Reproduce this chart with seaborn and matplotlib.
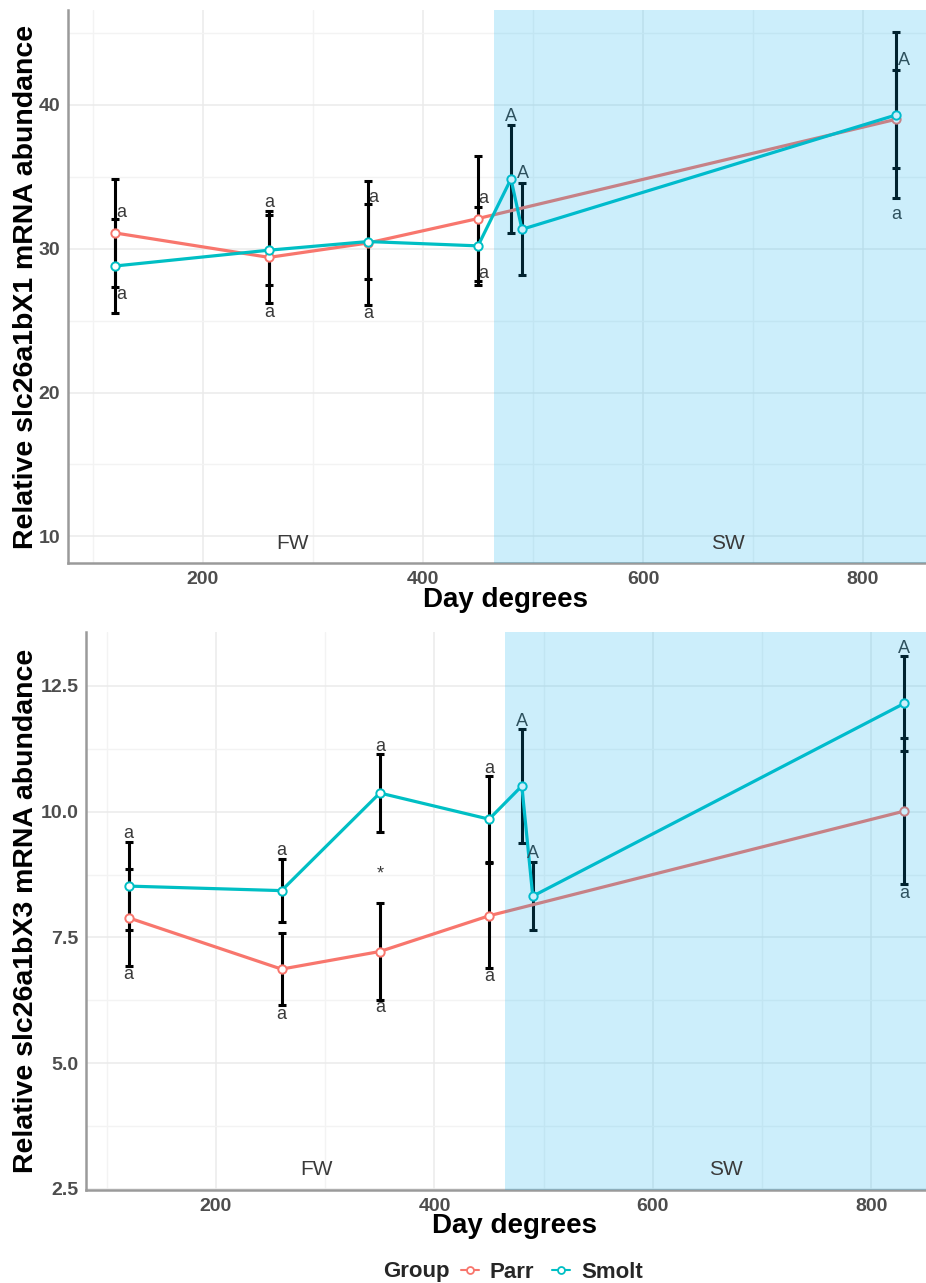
import numpy as np
import pandas as pd
import matplotlib
matplotlib.use("Agg")
import matplotlib.pyplot as plt
from matplotlib.lines import Line2D
import seaborn as sns

# ---- data ---------------------------------------------------------------
parr_days = [120, 260, 350, 450, 830]
smolt_days = [120, 260, 350, 450, 480, 490, 830]

x1_parr_mean = [31.1, 29.4, 30.4, 32.1, 39.0]
x1_parr_se = [3.75, 3.2, 4.3, 4.35, 3.4]
x1_smolt_mean = [28.8, 29.9, 30.5, 30.2, 34.85, 31.35, 39.3]
x1_smolt_se = [3.25, 2.45, 2.6, 2.7, 3.75, 3.2, 5.8]

x3_parr_mean = [7.89, 6.87, 7.22, 7.93, 10.01]
x3_parr_se = [0.96, 0.72, 0.96, 1.04, 1.45]
x3_smolt_mean = [8.52, 8.43, 10.37, 9.85, 10.51, 8.32, 12.15]
x3_smolt_se = [0.87, 0.63, 0.77, 0.85, 1.14, 0.68, 0.95]

# significance letters: x, y, text
x1_letter_x = [126, 126, 260, 260, 355, 350, 455, 455, 480, 491, 837, 830]
x1_letter_y = [32.55, 26.8, 33.2, 25.6, 33.55, 25.5, 33.5, 28.3, 39.2, 35.2, 43.06, 32.35]
x1_letter_txt = ["a", "a", "a", "a", "a", "a", "a", "a", "A", "A", "A", "a"]

x3_letter_x = [120, 120, 260, 260, 350, 350, 350, 450, 450, 480, 490, 830, 830]
x3_letter_y = [9.57, 6.77, 9.22, 5.96, 11.29, 8.76, 6.1, 10.86, 6.73, 11.8, 9.17, 13.25, 8.38]
x3_letter_txt = ["a", "a", "a", "a", "a", "*", "a", "a", "a", "A", "A", "A", "a"]

groups = ["Parr", "Smolt"]
palette = {"Parr": "#F8766D", "Smolt": "#00BFC4"}
sw_start = 465

# ---- style --------------------------------------------------------------
sns.set_theme(style="white")
plt.rcParams["font.family"] = ["Liberation Sans", "DejaVu Sans"]
NARROW = ["Liberation Sans Narrow", "Liberation Sans"]

fig = plt.figure(figsize=(9.26, 12.83), dpi=100)
W, H = 926, 1283
ax1 = fig.add_axes([68 / W, 1 - 563 / H, (W - 68) / W, (563 - 10) / H])
ax2 = fig.add_axes([86 / W, 1 - 1190 / H, (W - 86) / W, (1190 - 632) / H])


def make_frame(pm, ps, sm, ss):
    return pd.concat([
        pd.DataFrame({"Day": parr_days, "mean": pm, "se": ps, "Group": "Parr"}),
        pd.DataFrame({"Day": smolt_days, "mean": sm, "se": ss, "Group": "Smolt"}),
    ], ignore_index=True)


def draw_panel(ax, df, xlim, ylim, yticks, yminor, ylabel, ytick_fmt,
               lx, ly, lt, fw_pos, sw_pos, ylab_x, xlab_y):
    ax.set_xlim(*xlim)
    ax.set_ylim(*ylim)
    # grid
    for v in [100, 300, 500, 700]:
        ax.axvline(v, color="#F3F3F3", lw=1.0, zorder=0)
    for v in [200, 400, 600, 800]:
        ax.axvline(v, color="#EBEBEB", lw=1.1, zorder=0)
    for v in yminor:
        ax.axhline(v, color="#F3F3F3", lw=1.0, zorder=0)
    for v in yticks:
        ax.axhline(v, color="#EBEBEB", lw=1.1, zorder=0)

    # error bars
    ax.errorbar(df["Day"], df["mean"], yerr=df["se"], fmt="none",
                ecolor="black", elinewidth=2.2, capsize=3.2, capthick=2.2,
                zorder=2)
    # group lines with hollow markers
    for g in groups:
        sub = df[df["Group"] == g]
        sns.lineplot(data=sub, x="Day", y="mean", ax=ax, color=palette[g],
                     lw=2.3, marker="o", markersize=6, markerfacecolor="white",
                     markeredgecolor=palette[g], markeredgewidth=1.4,
                     legend=False, zorder=3)

    # letters
    for x, y, t in zip(lx, ly, lt):
        ax.text(x, y, t, ha="center", va="center", fontsize=13,
                color="#3a3a3a", zorder=4, family=NARROW)

    # seawater period
    ax.axvspan(sw_start, xlim[1], color="#00AEEF", alpha=0.2, lw=0, zorder=5)

    ax.text(fw_pos[0], fw_pos[1], "FW", ha="center", va="center",
            fontsize=15, color="#3a3a3a", zorder=6, family=NARROW)
    ax.text(sw_pos[0], sw_pos[1], "SW", ha="center", va="center",
            fontsize=15, color="#3a3a3a", zorder=6, family=NARROW)

    ax.set_xticks([200, 400, 600, 800])
    ax.set_yticks(yticks)
    ax.set_yticklabels([ytick_fmt.format(v) for v in yticks])
    ax.tick_params(axis="both", which="major", length=3.5, width=1.0,
                   color="#8a8a8a", labelsize=14, labelcolor="#4D4D4D",
                   pad=2)
    for lab in ax.get_xticklabels() + ax.get_yticklabels():
        lab.set_fontweight("bold")
    for s in ["top", "right"]:
        ax.spines[s].set_visible(False)
    for s in ["left", "bottom"]:
        ax.spines[s].set_color("#9a9a9a")
        ax.spines[s].set_linewidth(1.8)
    ax.set_ylabel(ylabel, fontsize=20.5, fontweight="bold", color="black")
    ax.set_xlabel("Day degrees", fontsize=20, fontweight="bold",
                  color="black")
    ax.yaxis.set_label_coords(ylab_x, 0.5)
    ax.xaxis.set_label_coords(0.51, xlab_y)
    ax.set_facecolor("white")


df1 = make_frame(x1_parr_mean, x1_parr_se, x1_smolt_mean, x1_smolt_se)
df3 = make_frame(x3_parr_mean, x3_parr_se, x3_smolt_mean, x3_smolt_se)

draw_panel(ax1, df1, (77.3, 857.3), (8.15, 46.6), [10, 20, 30, 40],
           [15, 25, 35, 45], "Relative slc26a1bX1 mRNA abundance", "{:.0f}",
           x1_letter_x, x1_letter_y, x1_letter_txt, (281, 9.5), (677, 9.5),
           -0.034, -0.043)
draw_panel(ax2, df3, (81, 850), (2.48, 13.57), [2.5, 5.0, 7.5, 10.0, 12.5],
           [3.75, 6.25, 8.75, 11.25], "Relative slc26a1bX3 mRNA abundance",
           "{:.1f}", x3_letter_x, x3_letter_y, x3_letter_txt, (292, 2.88),
           (667, 2.88), -0.056, -0.041)

# legend
fig.text(383 / W, 1 - 1272 / H, "Group", fontsize=16, fontweight="bold",
         ha="left", va="center")
handles = [Line2D([], [], color=palette[g], lw=1.5, marker="o", markersize=5,
                  markerfacecolor="white", markeredgecolor=palette[g],
                  markeredgewidth=1.3) for g in groups]
leg = fig.legend(handles, groups, loc="center left",
                 bbox_to_anchor=(461 / W, 1 - 1272 / H), ncol=2, frameon=False,
                 handlelength=0.8, handletextpad=0.5, columnspacing=0.8,
                 borderaxespad=0, borderpad=0,
                 prop={"size": 16, "weight": "bold"})

fig.savefig("out.png", dpi=100, facecolor="white")
